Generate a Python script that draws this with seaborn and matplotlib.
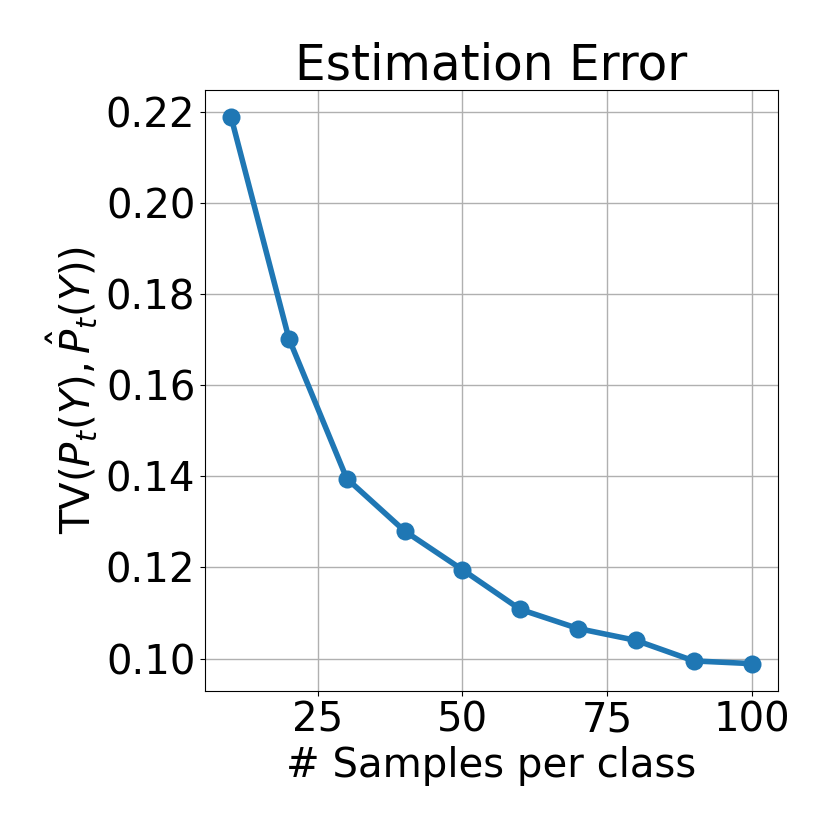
import pandas as pd
import matplotlib
matplotlib.use("Agg")
import matplotlib.pyplot as plt
import seaborn as sns

# values
samples = [10, 20, 30, 40, 50, 60, 70, 80, 90, 100]
tv_error = [0.2188, 0.1702, 0.1395, 0.1280, 0.1195, 0.1108, 0.1066, 0.1040, 0.0995, 0.0989]

data = pd.DataFrame({"samples": samples, "tv": tv_error})

plt.rcParams["font.family"] = ["DejaVu Sans"]
fig = plt.figure(figsize=(8.3, 8.3), dpi=100)
ax = fig.add_axes([0.247, 0.1675, 0.69, 0.7245])

sns.lineplot(x="samples", y="tv", data=data, ax=ax, marker="o",
             markersize=13, linewidth=4, color="#1f77b4", markeredgewidth=0)

ax.grid(True, color="#b0b0b0", linewidth=1)
ax.set_axisbelow(True)
ax.set_xticks([25, 50, 75, 100])
ax.set_yticks([0.10, 0.12, 0.14, 0.16, 0.18, 0.20, 0.22])
ax.tick_params(labelsize=29)
ax.set_title("Estimation Error", fontsize=35)
ax.set_xlabel("# Samples per class", fontsize=29)
ax.set_ylabel(r"TV$(P_t(Y), \hat{P}_t(Y))$", fontsize=29)

fig.savefig("out.png", dpi=100)
